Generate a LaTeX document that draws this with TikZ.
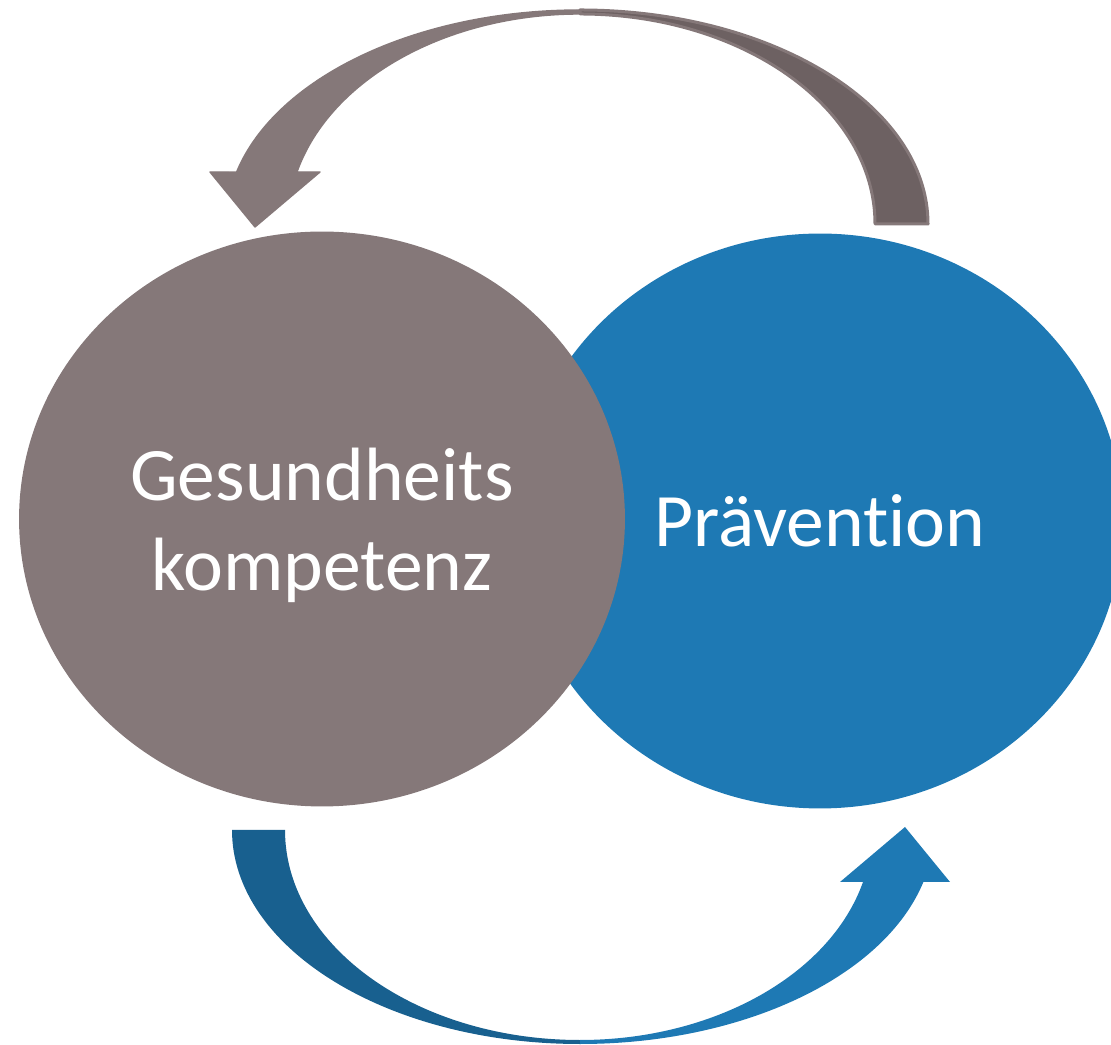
\documentclass[tikz,border=0pt]{standalone}
\usepackage{fontspec}
\setmainfont{Carlito}[Ligatures=NoCommon]
\usepackage{tikz}
\usetikzlibrary{shapes.geometric}

\definecolor{kompgrey}{RGB}{133,120,121}
\definecolor{kompdark}{RGB}{109,97,98}
\definecolor{prevblue}{RGB}{30,121,180}
\definecolor{prevdark}{RGB}{24,96,143}

\begin{document}
\begin{tikzpicture}[x=0.02cm, y=0.02cm,
        blob/.style={ellipse, inner sep=0pt, minimum width=12.12cm, minimum height=11.5cm,
            text=white, align=center, font=\fontsize{43}{51}\selectfont}]
        \useasboundingbox (0,0) rectangle (1111,1044);
        \clip (0,0) rectangle (1111,1044);

        \node[blob, fill=prevblue] (pv) at (820,523) {Prävention};
        \node[blob, fill=kompgrey, text depth=0pt] (gk) at (322,525) {Gesundheits\\kompetenz};

        \coordinate (mid) at (580,517);

        \filldraw[kompdark, draw=kompgrey, line width=0.06cm, line join=round]
            (580,1034) arc[start angle=90, end angle=0, x radius=348, y radius=214]
            -- (875,820) arc[start angle=0, end angle=90, x radius=295, y radius=210] -- cycle;
        \filldraw[kompgrey, line width=0.8pt, line join=round]
            (580,1034) arc[start angle=90, end angle=165.94, x radius=354, y radius=214]
            -- (210,872) -- (255,817) -- (320,872) -- (297,872)
            arc[start angle=165.66, end angle=90, x radius=292, y radius=210] -- cycle;

        \begin{scope}[rotate around={180:(mid)}]
        \fill[prevdark]
            (580,1034) arc[start angle=90, end angle=0, x radius=348, y radius=214]
            -- (875,820) arc[start angle=0, end angle=90, x radius=295, y radius=210] -- cycle;
        \fill[prevblue]
            (580,1034) arc[start angle=90, end angle=165.94, x radius=354, y radius=214]
            -- (210,872) -- (255,817) -- (320,872) -- (297,872)
            arc[start angle=165.66, end angle=90, x radius=292, y radius=210] -- cycle;
        \end{scope}

    \end{tikzpicture}
\end{document}
